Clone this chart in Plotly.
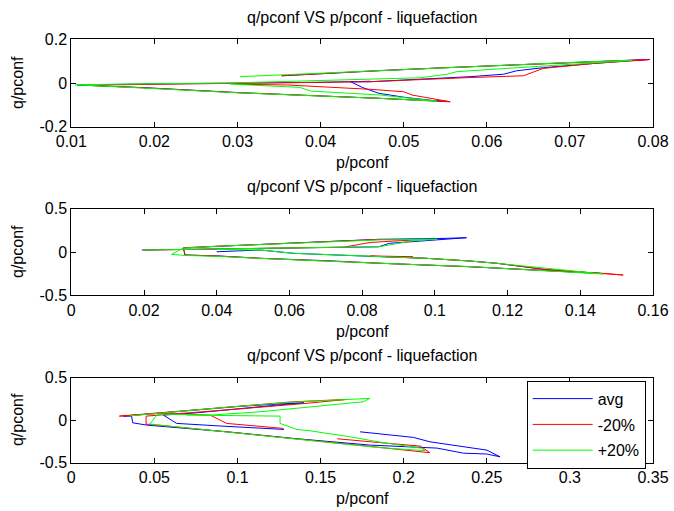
import plotly.graph_objects as go

# ---------------- data ----------------
series_names = ["avg", "-20%", "+20%"]
series_colors = ["#0000ff", "#ff0000", "#00ff00"]

# subplot 1
p1_avg = [0.0353, 0.041, 0.047, 0.055, 0.062, 0.07, 0.0796, 0.073, 0.0668, 0.0636, 0.062, 0.058, 0.052, 0.046, 0.0436,
          0.045, 0.047, 0.05, 0.0535, 0.0555, 0.047, 0.03, 0.0186, 0.0107, 0.02, 0.03, 0.04, 0.046]
q1_avg = [0.033, 0.045, 0.056, 0.07, 0.08, 0.092, 0.108, 0.09, 0.07, 0.056, 0.04, 0.029, 0.016, 0.006, 0.006,
          -0.02, -0.047, -0.065, -0.08, -0.085, -0.07, -0.044, -0.021, -0.009, -0.004, -0.001, 0.003, 0.008]
p1_m20 = [0.0353, 0.041, 0.047, 0.055, 0.062, 0.07, 0.0795, 0.073, 0.0668, 0.0644, 0.058, 0.046, 0.035, 0.025, 0.018, 0.0115,
          0.0186, 0.03, 0.047, 0.0556, 0.051, 0.05, 0.046, 0.036, 0.03]
q1_m20 = [0.033, 0.045, 0.057, 0.07, 0.081, 0.093, 0.107, 0.09, 0.067, 0.033, 0.025, 0.006, 0.001, -0.002, -0.004, -0.01,
          -0.022, -0.044, -0.07, -0.086, -0.055, -0.04, -0.029, -0.009, -0.006]
p1_p20 = [0.0303, 0.04, 0.047, 0.055, 0.062, 0.07, 0.0775, 0.0769, 0.0564, 0.0552, 0.052, 0.046, 0.04, 0.029, 0.02, 0.0105,
          0.0186, 0.03, 0.047, 0.054, 0.0472, 0.0388, 0.0375, 0.0291]
q1_p20 = [0.029, 0.045, 0.058, 0.071, 0.082, 0.094, 0.104, 0.102, 0.052, 0.04, 0.024, 0.017, 0.01, 0.0, -0.003, -0.008,
          -0.023, -0.045, -0.07, -0.083, -0.055, -0.037, -0.02, -0.005]

# subplot 2
p2_avg = [0.0194, 0.03, 0.045, 0.06, 0.075, 0.0845, 0.0875, 0.094, 0.1005, 0.1087, 0.1005, 0.0849, 0.07, 0.052, 0.04, 0.0308,
          0.0313, 0.04, 0.052, 0.07, 0.0849, 0.1096, 0.128, 0.1463, 0.13, 0.117, 0.1096, 0.0977, 0.0849, 0.07, 0.061, 0.052, 0.04]
q2_avg = [0.023, 0.028, 0.035, 0.045, 0.055, 0.06, 0.1, 0.122, 0.145, 0.165, 0.155, 0.147, 0.12, 0.092, 0.065, 0.045,
          -0.035, -0.045, -0.073, -0.1, -0.13, -0.17, -0.208, -0.25, -0.2, -0.13, -0.104, -0.073, -0.054, -0.035, -0.015, 0.023, 0.003]
p2_m20 = [0.02, 0.03, 0.045, 0.06, 0.075, 0.0822, 0.094, 0.0849, 0.07, 0.052, 0.04, 0.0308,
          0.0313, 0.04, 0.052, 0.07, 0.0849, 0.1096, 0.128, 0.1463, 0.1518, 0.13, 0.117, 0.1096, 0.0977, 0.0822, 0.094]
q2_m20 = [0.022, 0.028, 0.036, 0.046, 0.056, 0.11, 0.139, 0.145, 0.12, 0.09, 0.065, 0.05,
          -0.035, -0.046, -0.073, -0.1, -0.13, -0.17, -0.208, -0.246, -0.266, -0.2, -0.13, -0.104, -0.073, -0.046, -0.054]
p2_p20 = [0.0198, 0.03, 0.045, 0.06, 0.075, 0.0849, 0.094, 0.1005, 0.0849, 0.07, 0.052, 0.04, 0.0308, 0.0276,
          0.0313, 0.04, 0.052, 0.07, 0.0849, 0.1096, 0.128, 0.1463, 0.117, 0.1096, 0.0977, 0.0822, 0.0611, 0.052, 0.04]
q2_p20 = [0.023, 0.03, 0.038, 0.048, 0.056, 0.062, 0.13, 0.147, 0.14, 0.118, 0.09, 0.066, 0.045, -0.027,
          -0.04, -0.05, -0.074, -0.1, -0.13, -0.168, -0.21, -0.254, -0.13, -0.104, -0.073, -0.046, -0.015, 0.023, 0.03]

# subplot 3
p3_avg = [0.1737, 0.1857, 0.2058, 0.2158, 0.25, 0.258, 0.25, 0.236, 0.22, 0.18, 0.1336, 0.0935, 0.0454, 0.0369, 0.0363,
          0.0313, 0.045, 0.06, 0.08, 0.1, 0.12, 0.14, 0.12, 0.095, 0.075, 0.0554, 0.0634, 0.09, 0.1135, 0.128]
q3_avg = [-0.138, -0.165, -0.204, -0.256, -0.354, -0.433, -0.4, -0.39, -0.33, -0.295, -0.216, -0.138, -0.059, -0.032, 0.047,
          0.047, 0.07, 0.095, 0.13, 0.16, 0.185, 0.205, 0.17, 0.12, 0.085, 0.059, -0.039, -0.07, -0.098, -0.11]
p3_m20 = [0.1276, 0.0935, 0.0835, 0.0534, 0.0289, 0.0534, 0.0935, 0.1336, 0.166, 0.14, 0.1, 0.07, 0.045,
          0.045, 0.047, 0.0935, 0.1336, 0.1857, 0.2158, 0.21, 0.18, 0.16]
q3_m20 = [-0.098, -0.039, 0.059, 0.079, 0.047, 0.086, 0.157, 0.216, 0.244, 0.195, 0.13, 0.085, 0.047,
          -0.05, -0.05, -0.138, -0.216, -0.322, -0.385, -0.307, -0.256, -0.22]
p3_p20 = [0.035, 0.0534, 0.0935, 0.1336, 0.166, 0.1797, 0.1757, 0.1135, 0.0835, 0.0534, 0.0514, 0.0473,
          0.0935, 0.1336, 0.1857, 0.213, 0.21, 0.1857, 0.1677, 0.1436, 0.1356, 0.1256, 0.1256, 0.0694]
q3_p20 = [0.05, 0.082, 0.152, 0.212, 0.243, 0.256, 0.216, 0.098, 0.059, 0.071, 0.059, -0.047,
          -0.14, -0.218, -0.325, -0.36, -0.33, -0.26, -0.197, -0.126, -0.11, -0.039, 0.047, 0.059]

panel_data = [
    [(p1_avg, q1_avg), (p1_m20, q1_m20), (p1_p20, q1_p20)],
    [(p2_avg, q2_avg), (p2_m20, q2_m20), (p2_p20, q2_p20)],
    [(p3_avg, q3_avg), (p3_m20, q3_m20), (p3_p20, q3_p20)],
]

x_ranges = [[0.01, 0.08], [0, 0.16], [0, 0.35]]
x_ticks = [[0.01, 0.02, 0.03, 0.04, 0.05, 0.06, 0.07, 0.08],
           [0, 0.02, 0.04, 0.06, 0.08, 0.1, 0.12, 0.14, 0.16],
           [0, 0.05, 0.1, 0.15, 0.2, 0.25, 0.3, 0.35]]
x_ticktext = [["0.01", "0.02", "0.03", "0.04", "0.05", "0.06", "0.07", "0.08"],
              ["0", "0.02", "0.04", "0.06", "0.08", "0.1", "0.12", "0.14", "0.16"],
              ["0", "0.05", "0.1", "0.15", "0.2", "0.25", "0.3", "0.35"]]
y_ranges = [[-0.2, 0.2], [-0.5, 0.5], [-0.5, 0.5]]
y_ticks = [[-0.2, 0, 0.2], [-0.5, 0, 0.5], [-0.5, 0, 0.5]]
y_ticktext = [["-0.2", "0", "0.2"], ["-0.5", "0", "0.5"], ["-0.5", "0", "0.5"]]

title_text = "q/pconf VS p/pconf - liquefaction"
xlabel_text = "p/pconf"
ylabel_text = "q/pconf"

# ---------------- layout geometry ----------------
W, H = 674, 511
FONT = "Liberation Sans, Arial, sans-serif"
FS = 16
x_left, x_right = 71.3, 653.0
panel_px = [(39.3, 126.7), (208.7, 295.3), (377.7, 462.5)]  # (top, bottom) pixels

def py(v):
    return 1 - v / H

fig = go.Figure()
for i, panel in enumerate(panel_data):
    xa = "x" if i == 0 else f"x{i+1}"
    ya = "y" if i == 0 else f"y{i+1}"
    for j, (pv, qv) in enumerate(panel):
        fig.add_trace(go.Scatter(
            x=pv, y=qv, mode="lines", name=series_names[j],
            line=dict(color=series_colors[j], width=1),
            xaxis=xa, yaxis=ya, legendgroup=series_names[j],
            showlegend=(i == 2),
        ))

layout = dict(
    width=W, height=H,
    margin=dict(l=0, r=0, t=0, b=0, autoexpand=False),
    paper_bgcolor="white", plot_bgcolor="white",
    font=dict(family=FONT, size=FS, color="black"),
    showlegend=True,
    legend=dict(x=526.7 / W, y=py(380.7), xanchor="left", yanchor="top",
                bordercolor="black", borderwidth=1, bgcolor="white",
                font=dict(family=FONT, size=FS, color="black"),
                tracegroupgap=2, itemwidth=60),
)
annotations = []
for i in range(3):
    top, bot = panel_px[i]
    sfx = "" if i == 0 else str(i + 1)
    common = dict(showgrid=False, zeroline=False, showline=True, linecolor="black", linewidth=1,
                  mirror="ticks", ticks="inside", ticklen=5, tickcolor="black", automargin=False,
                  tickfont=dict(family=FONT, size=FS, color="black"))
    layout[f"xaxis{sfx}"] = dict(
        domain=[x_left / W, x_right / W], anchor=f"y{sfx}",
        range=x_ranges[i], tickvals=x_ticks[i], ticktext=x_ticktext[i], **common)
    layout[f"yaxis{sfx}"] = dict(
        domain=[py(bot), py(top)], anchor=f"x{sfx}",
        range=y_ranges[i], tickvals=y_ticks[i], ticktext=y_ticktext[i], **common)
    cx = (x_left + x_right) / 2 / W
    annotations.append(dict(text=title_text, x=cx, y=py(top - 22), xref="paper", yref="paper",
                            xanchor="center", yanchor="middle", showarrow=False,
                            font=dict(family=FONT, size=FS, color="black")))
    annotations.append(dict(text=xlabel_text, x=cx, y=py(bot + 36), xref="paper", yref="paper",
                            xanchor="center", yanchor="middle", showarrow=False,
                            font=dict(family=FONT, size=FS, color="black")))
    annotations.append(dict(text=ylabel_text, x=17 / W, y=py((top + bot) / 2), xref="paper", yref="paper",
                            xanchor="center", yanchor="middle", showarrow=False, textangle=-90,
                            font=dict(family=FONT, size=FS, color="black")))
layout["annotations"] = annotations
fig.update_layout(**layout)

fig.write_html("out.html")
